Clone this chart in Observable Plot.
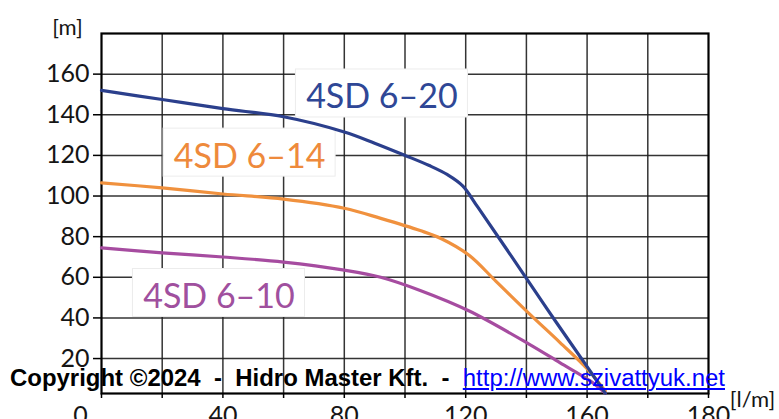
<!DOCTYPE html>
<html>
<head>
<meta charset="utf-8">
<script src="https://cdn.jsdelivr.net/npm/d3@7"></script>
<script src="https://cdn.jsdelivr.net/npm/@observablehq/plot@0.6"></script>
<style>
html, body { margin: 0; padding: 0; background: #fff; }
#wrap { position: relative; width: 779px; height: 419px; overflow: hidden; background: #fff; }
#copy { position: absolute; left: 10px; top: 367px; font-family: "Liberation Sans", Arial, sans-serif; font-size: 23px; line-height: 23px; white-space: pre; transform-origin: 0 0; color: #000; }
#copy b { font-weight: bold; }
#copy a { color: #0000ff; text-decoration: underline; font-weight: normal; }
</style>
</head>
<body>
<div id="wrap">
  <div id="chart"></div>
  <div id="copy"><b>Copyright ©2024  -  Hidro Master Kft.  -  </b><a href="http://www.szivattyuk.net">http://www.szivattyuk.net</a></div>
</div>
<script>
// ---- Data ----
const flow620 = [0, 20, 40, 60, 80, 90, 100, 108, 114, 119, 124, 140, 150, 160, 166];
const head620 = [152, 147.5, 143, 139, 131.5, 126, 120, 115, 110.5, 105, 94.5, 59.5, 37.5, 16, 3];

const flow614 = [0, 20, 40, 60, 80, 92, 105, 112, 121, 130, 141, 151, 160, 166];
const head614 = [106.5, 104, 101, 98.5, 94, 89, 83, 79, 71, 58, 42, 28, 15, 4];

const flow610 = [0, 20, 40, 60, 80, 92, 105, 121, 141, 151, 161, 166];
const head610 = [74.5, 72, 70, 67.5, 63.5, 60, 53.5, 43.5, 27, 18, 9, 3];

const seriesNames = ["4SD 6–20", "4SD 6–14", "4SD 6–10"];
const labelFlow = [92.4, 48.8, 38.7];
const labelHead = [148.5, 119.4, 50.3];

// ticks / labels
const xGridTicks = [0, 20, 40, 60, 80, 100, 120, 140, 160, 180, 200];
const xLabelTicks = [40, 80, 120, 160, 200];
const xLabelTexts = ["40", "80", "120", "160", "180"];
const xZeroTick = [0];
const xZeroText = ["0"];
const yTicks = [20, 40, 60, 80, 100, 120, 140, 160];
const yUnit = "[m]";
const xUnit = "[l/m]";

// ---- Build tables ----
const lineColors = ["#2b3f8c", "#f0913e", "#a64ca0"];
const textColors = ["#2f4796", "#ee8a3c", "#a0509e"];
const toRows = (fx, hy) => fx.map((f, i) => ({flow: f, head: hy[i]}));
const rows620 = toRows(flow620, head620);
const rows614 = toRows(flow614, head614);
const rows610 = toRows(flow610, head610);
const labels = seriesNames.map((n, i) => ({name: n, x: labelFlow[i], y: labelHead[i], color: textColors[i]}));
const xLabelMap = new Map(xLabelTicks.map((t, i) => [t, xLabelTexts[i]]));

const gridStyle = {stroke: "#1e1e1e", strokeOpacity: 0.9, strokeWidth: 1.5};
const font = "Lato, 'Noto Sans', sans-serif";

const chart = Plot.plot({
  width: 779,
  height: 419,
  marginLeft: 101,
  marginRight: 71,
  marginTop: 33,
  marginBottom: 26,
  style: {background: "white", color: "#151515", fontFamily: font},
  x: {domain: [0, 200]},
  y: {domain: [2.8, 180]},
  marks: [
    Plot.gridX(xGridTicks.slice(1, -1), gridStyle),
    Plot.gridY(yTicks, gridStyle),
    Plot.rect(labels, {x1: "x", x2: "x", y1: "y", y2: "y",
      insetLeft: -86, insetRight: -86, insetTop: -28, insetBottom: -20,
      fill: "white", stroke: "#ececec", strokeWidth: 1}),
    Plot.frame({stroke: "#000", strokeWidth: 2.2}),
    Plot.line(rows610, {x: "flow", y: "head", stroke: lineColors[2], strokeWidth: 3.2, curve: "catmull-rom"}),
    Plot.line(rows614, {x: "flow", y: "head", stroke: lineColors[1], strokeWidth: 3.2, curve: "catmull-rom"}),
    Plot.line(rows620, {x: "flow", y: "head", stroke: lineColors[0], strokeWidth: 3.2, curve: "catmull-rom"}),
    Plot.text(labels, {x: "x", y: "y", text: "name", fill: "color", fontSize: 34, fontFamily: font, textAnchor: "middle", lineAnchor: "middle"}),
    Plot.axisY(yTicks, {tickSize: 8, tickPadding: 4, fontSize: 25, fontFamily: font, label: null, strokeWidth: 1.5, stroke: "#000"}),
    Plot.axisX(xGridTicks, {tickSize: 5, tickFormat: () => "", label: null, strokeWidth: 1.5, stroke: "#000"}),
    Plot.axisX(xLabelTicks, {tickSize: 0, tickPadding: 13, tickFormat: d => xLabelMap.get(d), fontSize: 25, fontFamily: font, label: null}),
    Plot.axisX(xZeroTick, {tickSize: 0, tickPadding: 13, dx: -21, tickFormat: () => xZeroText[0], fontSize: 25, fontFamily: font, label: null}),
    Plot.text([yUnit], {frameAnchor: "top-left", dx: -34, dy: -6, fontSize: 22, fontFamily: font, textAnchor: "middle", lineAnchor: "middle"}),
    Plot.text([xUnit], {frameAnchor: "bottom-right", dx: 44, dy: 6, fontSize: 22, fontFamily: font, textAnchor: "middle", lineAnchor: "middle"})
  ]
});
document.getElementById("chart").appendChild(chart);

function fitCopy() {
  const el = document.getElementById("copy");
  el.style.transform = "none";
  const w = el.getBoundingClientRect().width;
  const target = 715;
  if (w > 0) el.style.transform = `scaleX(${target / w})`;
}
fitCopy();
if (document.fonts && document.fonts.ready) document.fonts.ready.then(fitCopy);
</script>
</body>
</html>
